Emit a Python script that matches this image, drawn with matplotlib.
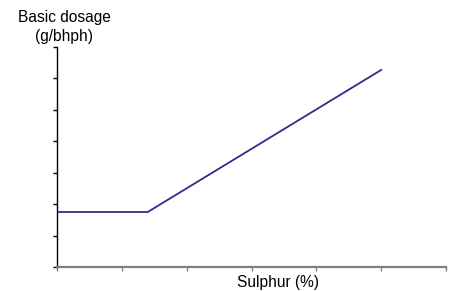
import matplotlib.pyplot as plt

plt.rcParams['font.family'] = ['Liberation Sans', 'DejaVu Sans']

# sulphur (%) vs basic dosage (g/bhph)
sulphur = [0.0, 1.4, 5.0]
dosage = [1.75, 1.75, 6.27]
x_ticks = [0, 1, 2, 3, 4, 5, 6]
y_ticks = [0, 1, 2, 3, 4, 5, 6, 7]

fig = plt.figure(figsize=(4.54, 2.91), dpi=100)
ax = fig.add_axes([57/454, 1 - 267/291, (446 - 57)/454, (267 - 47)/291])

ax.plot(sulphur, dosage, color='#35288c', lw=1.3, solid_joinstyle='miter')

ax.set_xlim(0, 6)
ax.set_ylim(0, 7)
ax.set_xticks(x_ticks)
ax.set_yticks(y_ticks)
ax.set_xticklabels([])
ax.set_yticklabels([])
ax.tick_params(axis='x', direction='out', length=3, width=1, color='#808080')
ax.tick_params(axis='y', direction='out', length=3, width=1, color='black')

for s in ['top', 'right']:
    ax.spines[s].set_visible(False)
ax.spines['left'].set_color('black')
ax.spines['left'].set_linewidth(1)
ax.spines['bottom'].set_color('#808080')
ax.spines['bottom'].set_linewidth(1.6)

fig.text(64/454, 1 - 27/291, 'Basic dosage\n(g/bhph)', ha='center', va='center',
         fontsize=11.2, linespacing=1.3)
fig.text(278/454, 1 - 283/291, 'Sulphur (%)', ha='center', va='center', fontsize=11.2)

fig.savefig('out.png', dpi=100)
